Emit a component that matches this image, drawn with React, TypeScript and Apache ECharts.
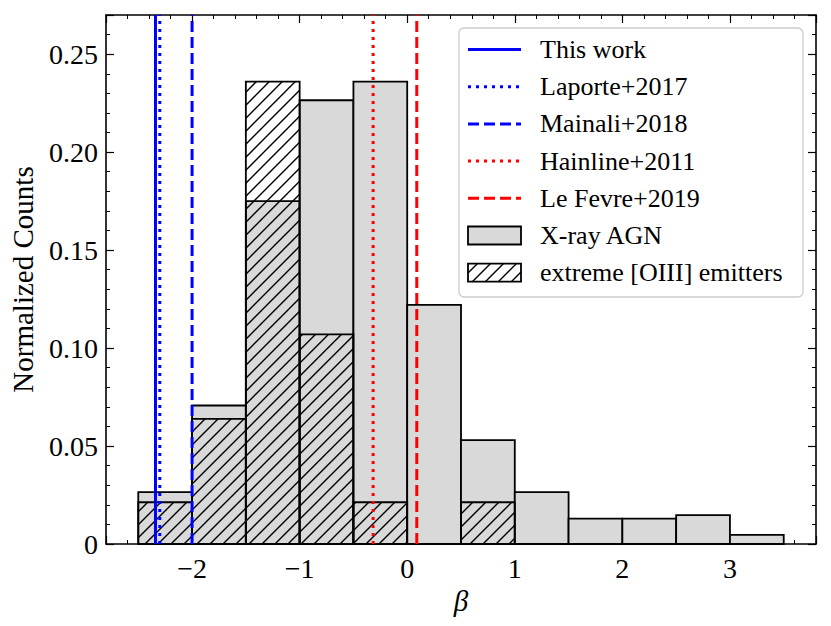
import React, { useEffect, useRef } from 'react';
import * as echarts from 'echarts';

// ---- data ----
const binEdges = [-2.5, -2.0, -1.5, -1.0, -0.5, 0.0, 0.5, 1.0, 1.5, 2.0, 2.5, 3.0, 3.5];
const xrayAGN = [0.0265, 0.0707, 0.175, 0.2265, 0.236, 0.122, 0.053, 0.0265, 0.013, 0.013, 0.0147, 0.0047];
const extremeOIII = [0.0213, 0.0639, 0.236, 0.107, 0.0213, 0, 0.0213, 0, 0, 0, 0, 0];
const refNames = ['This work', 'Laporte+2017', 'Mainali+2018', 'Hainline+2011', 'Le Fevre+2019'];
const refBeta = [-2.34, -2.3, -2.0, -0.317, 0.089];
const histNames = ['X-ray AGN', 'extreme [OIII] emitters'];

// ---- styles ----
const refColors = ['#0000ff', '#0000ff', '#0000ff', '#ff0000', '#ff0000'];
const refDash: (string | number[])[] = ['solid', [3, 5], [11, 5], [3, 5], [11, 5]];
const FONT = '"Liberation Serif", "Times New Roman", serif';
const GRAY = '#d9d9d9';
const HATCH = 13;
const EDGE = 1.8;
const X_MIN = -2.8, X_MAX = 3.8, Y_MIN = 0, Y_MAX = 0.27;

function hatchSegments(x0: number, y0: number, x1: number, y1: number, s: number) {
  const segs: number[][] = [];
  const cMin = x0 + y0, cMax = x1 + y1;
  for (let c = Math.ceil(cMin / s) * s; c <= cMax; c += s) {
    const xa = Math.max(x0, c - y1);
    const xb = Math.min(x1, c - y0);
    if (xb - xa > 0.3) segs.push([xa, c - xa, xb, c - xb]);
  }
  return segs;
}

function hatchLines(x0: number, y0: number, x1: number, y1: number, z?: number) {
  return hatchSegments(x0, y0, x1, y1, HATCH).map((s) => {
    const el: any = {
      type: 'line',
      shape: { x1: s[0], y1: s[1], x2: s[2], y2: s[3] },
      style: { stroke: '#000', lineWidth: 1.4 },
    };
    if (z !== undefined) el.z = z;
    return el;
  });
}

const fmtX = (v: number) => {
  if (Math.abs(v - Math.round(v)) > 1e-9) return '';
  const r = Math.round(v);
  return r < 0 ? '\u2212' + Math.abs(r) : String(r);
};
const fmtY = (v: number) => {
  if (Math.abs(v) < 1e-12) return '0';
  const k = Math.round(v / 0.05);
  if (Math.abs(v - k * 0.05) > 1e-9) return '';
  return v.toFixed(2);
};

const tickCommon = {
  axisLine: { show: true, onZero: false, lineStyle: { color: '#000', width: 1.6 } },
  axisTick: { show: true, inside: true, length: 8, lineStyle: { color: '#000', width: 1.2 } },
  minorTick: { show: true, splitNumber: 5, length: 4, lineStyle: { color: '#000', width: 1 } },
  splitLine: { show: false },
  minorSplitLine: { show: false },
};

export default function App() {
  const ref = useRef<HTMLDivElement>(null);
  useEffect(() => {
    if (!ref.current) return;
    const chart = echarts.init(ref.current, null, { renderer: 'svg' });

    const barData = xrayAGN.map((h, i) => [binEdges[i], binEdges[i + 1], h]);
    const hatchData = extremeOIII
      .map((h, i) => [binEdges[i], binEdges[i + 1], h])
      .filter((d) => d[2] > 0);

    const xBase = { type: 'value', min: X_MIN, max: X_MAX, minInterval: 1, maxInterval: 1, ...tickCommon };
    const yBase = { type: 'value', min: Y_MIN, max: Y_MAX, interval: 0.05, ...tickCommon };

    const lineSeries = refBeta.map((b, i) => ({
      type: 'line',
      name: refNames[i],
      data: [[b, Y_MIN], [b, Y_MAX]],
      showSymbol: false,
      symbol: 'none',
      z: 5,
      lineStyle: { color: refColors[i], width: 3, type: refDash[i] },
      clip: true,
      silent: true,
    }));

    // legend
    const lx = 459, ly = 28, lw = 344, lh = 269;
    const rowY = (i: number) => 49.5 + 37.2 * i;
    const hx0 = 468, hx1 = 521, tx = 540;
    const legendTexts = [...refNames, ...histNames];
    const graphic: any[] = [
      {
        type: 'rect', z: 100,
        shape: { x: lx, y: ly, width: lw, height: lh, r: 5 },
        style: { fill: 'rgba(255,255,255,0.8)', stroke: '#cccccc', lineWidth: 1.3 },
      },
    ];
    refNames.forEach((_, i) => {
      const d = refDash[i];
      graphic.push({
        type: 'line', z: 101,
        shape: { x1: hx0, y1: rowY(i), x2: hx1, y2: rowY(i) },
        style: { stroke: refColors[i], lineWidth: 3, lineDash: d === 'solid' ? null : d },
      });
    });
    graphic.push({
      type: 'rect', z: 101,
      shape: { x: hx0, y: rowY(5) - 9, width: hx1 - hx0, height: 18 },
      style: { fill: GRAY, stroke: '#000', lineWidth: EDGE },
    });
    const ey0 = rowY(6) - 9, ey1 = rowY(6) + 9;
    graphic.push({
      type: 'rect', z: 101,
      shape: { x: hx0, y: ey0, width: hx1 - hx0, height: 18 },
      style: { fill: '#fff' },
    });
    hatchLines(hx0, ey0, hx1, ey1, 102).forEach((el) => graphic.push(el));
    graphic.push({
      type: 'rect', z: 103,
      shape: { x: hx0, y: ey0, width: hx1 - hx0, height: 18 },
      style: { fill: 'none', stroke: '#000', lineWidth: EDGE },
    });
    legendTexts.forEach((t, i) => {
      graphic.push({
        type: 'text', z: 104,
        x: tx, y: rowY(i),
        style: {
          text: t, font: `26px ${FONT}`, fill: '#000',
          align: 'left', verticalAlign: 'middle', textAlign: 'left', textVerticalAlign: 'middle',
        },
      });
    });

    chart.setOption({
      animation: false,
      backgroundColor: '#fff',
      grid: { left: 106, right: 15, top: 15, bottom: 82, containLabel: false },
      xAxis: [
        {
          ...xBase, position: 'bottom',
          axisLabel: { show: true, formatter: fmtX, color: '#000', fontFamily: FONT, fontSize: 28, margin: 10 },
          name: '\u03b2', nameLocation: 'middle', nameGap: 37,
          nameTextStyle: { color: '#000', fontFamily: FONT, fontSize: 29, fontStyle: 'italic' },
        },
        { ...xBase, position: 'top', axisLabel: { show: false } },
      ],
      yAxis: [
        {
          ...yBase, position: 'left',
          axisLabel: { show: true, formatter: fmtY, color: '#000', fontFamily: FONT, fontSize: 28, margin: 8 },
          name: 'Normalized Counts', nameLocation: 'middle', nameGap: 69,
          nameTextStyle: { color: '#000', fontFamily: FONT, fontSize: 29 },
        },
        { ...yBase, position: 'right', axisLabel: { show: false } },
      ],
      series: [
        {
          type: 'custom', name: histNames[0], z: 1, silent: true,
          data: barData, encode: { x: [0, 1], y: 2 },
          renderItem: (_p: any, api: any) => {
            const a = api.coord([api.value(0), api.value(2)]);
            const b = api.coord([api.value(1), 0]);
            return {
              type: 'rect',
              shape: { x: a[0], y: a[1], width: b[0] - a[0], height: b[1] - a[1] },
              style: { fill: GRAY, stroke: '#000', lineWidth: EDGE },
            };
          },
        },
        {
          type: 'custom', name: histNames[1], z: 2, silent: true,
          data: hatchData, encode: { x: [0, 1], y: 2 },
          renderItem: (_p: any, api: any) => {
            const a = api.coord([api.value(0), api.value(2)]);
            const b = api.coord([api.value(1), 0]);
            return {
              type: 'group',
              children: [
                ...hatchLines(a[0], a[1], b[0], b[1]),
                {
                  type: 'rect',
                  shape: { x: a[0], y: a[1], width: b[0] - a[0], height: b[1] - a[1] },
                  style: { fill: 'none', stroke: '#000', lineWidth: EDGE },
                },
              ],
            };
          },
        },
        ...lineSeries,
      ],
      graphic,
    });
    return () => chart.dispose();
  }, []);
  return <div ref={ref} style={{ position: 'absolute', left: 0, top: 0, width: 831, height: 626 }} />;
}
